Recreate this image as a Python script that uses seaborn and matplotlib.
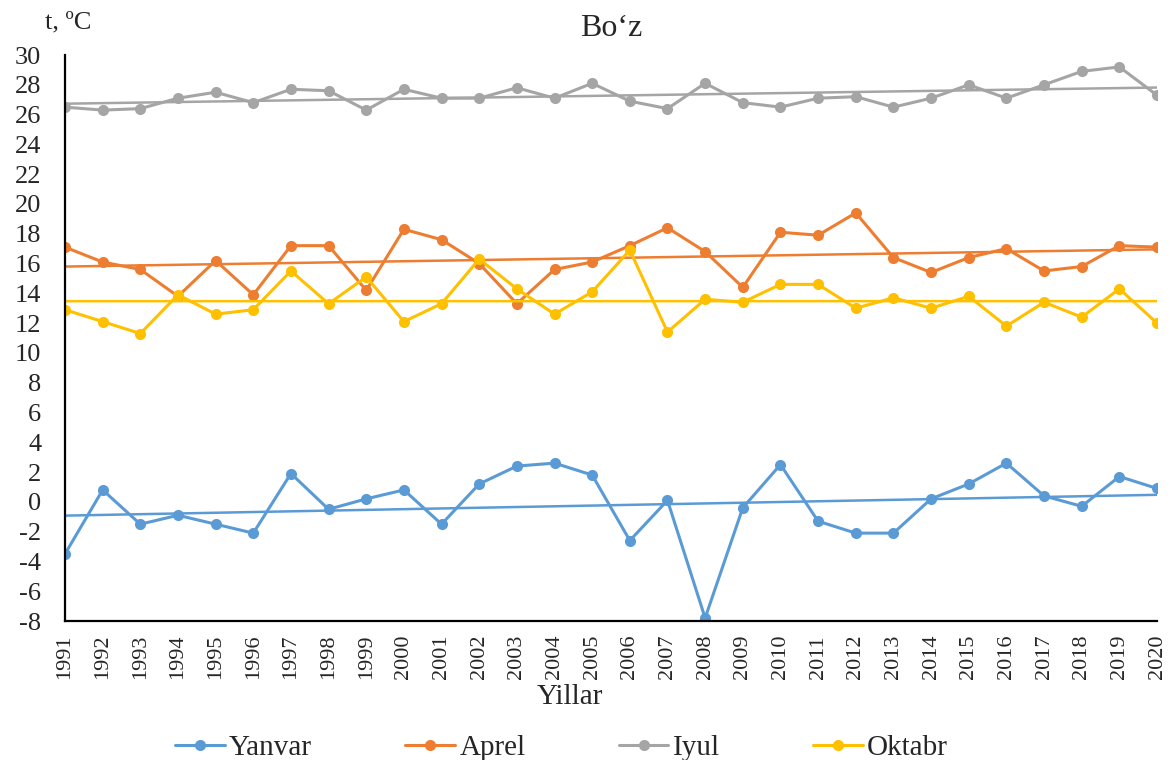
import numpy as np
import pandas as pd
import seaborn as sns
import matplotlib.pyplot as plt

years = list(range(1991, 2021))
yanvar = [-3.5, 0.8, -1.5, -0.9, -1.5, -2.1, 1.9, -0.5, 0.2, 0.8,
          -1.5, 1.2, 2.4, 2.6, 1.8, -2.6, 0.1, -7.8, -0.4, 2.5,
          -1.3, -2.1, -2.1, 0.2, 1.2, 2.6, 0.4, -0.3, 1.7, 0.9]
aprel = [17.1, 16.1, 15.6, 13.8, 16.2, 13.9, 17.2, 17.2, 14.2, 18.3,
         17.6, 16.0, 13.3, 15.6, 16.1, 17.2, 18.4, 16.8, 14.4, 18.1,
         17.9, 19.4, 16.4, 15.4, 16.4, 17.0, 15.5, 15.8, 17.2, 17.1]
iyul = [26.5, 26.3, 26.4, 27.1, 27.5, 26.8, 27.7, 27.6, 26.3, 27.7,
        27.1, 27.1, 27.8, 27.1, 28.1, 26.9, 26.4, 28.1, 26.8, 26.5,
        27.1, 27.2, 26.5, 27.1, 28.0, 27.1, 28.0, 28.9, 29.2, 27.3]
oktabr = [12.9, 12.1, 11.3, 13.9, 12.6, 12.9, 15.5, 13.3, 15.1, 12.1,
          13.3, 16.3, 14.3, 12.6, 14.1, 16.9, 11.4, 13.6, 13.4, 14.6,
          14.6, 13.0, 13.7, 13.0, 13.8, 11.8, 13.4, 12.4, 14.3, 12.0]

names = ['Yanvar', 'Aprel', 'Iyul', 'Oktabr']
colors = ['#5B9BD5', '#ED7D31', '#A5A5A5', '#FFC000']

df = pd.DataFrame({'year': years, 'Yanvar': yanvar, 'Aprel': aprel,
                   'Iyul': iyul, 'Oktabr': oktabr})

sns.set_style('white')
plt.rcParams['font.family'] = ['Liberation Serif', 'DejaVu Serif']
plt.rcParams['axes.unicode_minus'] = False

fig = plt.figure(figsize=(11.7, 7.6), dpi=100)
ax = fig.add_axes([65 / 1170, 1 - 621 / 760, 1092 / 1170, 566 / 760])

handles = []
for name, c in zip(names, colors):
    # linear trend line for each month
    sns.regplot(x='year', y=name, data=df, ax=ax, scatter=False, ci=None,
                color=c, line_kws={'lw': 1.8})
    sns.lineplot(x='year', y=name, data=df, ax=ax, color=c, lw=2.2,
                 marker='o', markersize=8, markeredgewidth=0, label=name,
                 legend=False)
    handles.append(ax.lines[-1])

ax.set_xlim(1991, 2020)
ax.set_ylim(-8, 30)
ax.set_yticks(range(-8, 31, 2))
ax.set_xticks(years)
ax.set_xticklabels([str(y) for y in years], rotation=90)
ax.tick_params(axis='both', direction='in', length=6, width=1.5,
               color='black')
ax.tick_params(axis='y', pad=17, labelsize=19)
ax.tick_params(axis='x', pad=10, labelsize=16)
sns.despine(ax=ax)
for s in ['left', 'bottom']:
    ax.spines[s].set_color('black')
    ax.spines[s].set_linewidth(1.6)

ax.set_ylabel('')
ax.set_xlabel('Yillar', fontsize=21)
ax.xaxis.set_label_coords(505 / 1092, -0.112)
ax.set_title('Bo‘z', fontsize=23, pad=14)
fig.text(45 / 1170, 1 - 22 / 760, 't, ºC', fontsize=19, ha='left', va='center')

fig.legend(handles=handles, labels=names, loc='center', ncol=4,
           bbox_to_anchor=(0.48, 0.016), frameon=False, fontsize=21,
           columnspacing=3.2, handlelength=1.7, handletextpad=0.15)

fig.savefig('out.png', dpi=100)
